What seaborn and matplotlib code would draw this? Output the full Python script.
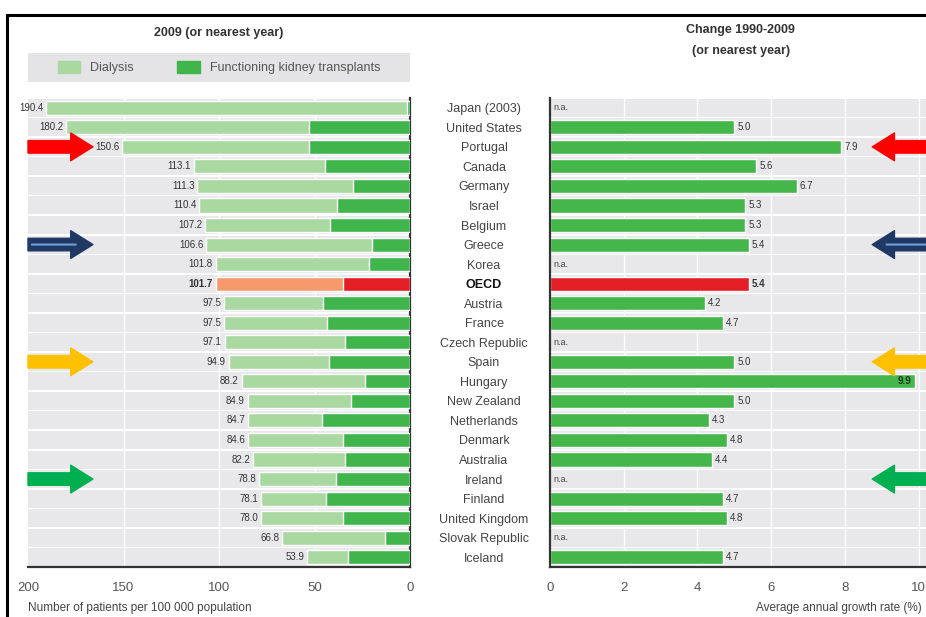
import numpy as np
import pandas as pd
import matplotlib
matplotlib.use("Agg")
import matplotlib.pyplot as plt
from matplotlib.patches import Rectangle, Patch
import seaborn as sns

# data
countries = ["Japan (2003)", "United States", "Portugal", "Canada", "Germany", "Israel",
             "Belgium", "Greece", "Korea", "OECD", "Austria", "France", "Czech Republic",
             "Spain", "Hungary", "New Zealand", "Netherlands", "Denmark", "Australia",
             "Ireland", "Finland", "United Kingdom", "Slovak Republic", "Iceland"]
total_patients = [190.4, 180.2, 150.6, 113.1, 111.3, 110.4, 107.2, 106.6, 101.8, 101.7,
                  97.5, 97.5, 97.1, 94.9, 88.2, 84.9, 84.7, 84.6, 82.2, 78.8, 78.1, 78.0,
                  66.8, 53.9]
transplants = [1.5, 53, 53, 44.5, 30, 38, 42, 20, 21.5, 35, 45.5, 43.5, 34, 42.5, 23.5,
               31, 46, 35, 34, 39, 44, 35, 13, 32.5]
growth = [np.nan, 5.0, 7.9, 5.6, 6.7, 5.3, 5.3, 5.4, np.nan, 5.4, 4.2, 4.7, np.nan, 5.0,
          9.9, 5.0, 4.3, 4.8, 4.4, np.nan, 4.7, 4.8, np.nan, 4.7]
highlight = {"Portugal": "#ff0000", "Greece": "#1f3864", "Spain": "#ffc000", "Ireland": "#00b050"}

df = pd.DataFrame({"country": countries, "total": total_patients,
                   "transplant": transplants, "growth": growth})

light_green, dark_green = "#a9d9a1", "#3fb54c"
oecd_light, oecd_dark = "#f69a6e", "#e31e24"
band = "#e8e8ea"

pal_light = {c: (oecd_light if c == "OECD" else light_green) for c in countries}
pal_dark = {c: (oecd_dark if c == "OECD" else dark_green) for c in countries}
pal_growth = {c: (oecd_dark if c == "OECD" else "#45b649") for c in countries}

sns.set_style("white")
plt.rcParams["font.family"] = ["Liberation Sans", "DejaVu Sans"]

fig = plt.figure(figsize=(9.26, 6.17), dpi=100)
ax1 = fig.add_axes([28 / 926, 1 - 567 / 617, 382 / 926, 469 / 617])
ax2 = fig.add_axes([550 / 926, 1 - 567 / 617, 376 / 926, 469 / 617])

n = len(countries)
for ax in (ax1, ax2):
    for i in range(n):
        ax.axhspan(i - 0.46, i + 0.46, color=band, lw=0, zorder=0)

# left panel: stacked bars
sns.barplot(data=df, x="total", y="country", hue="country", order=countries,
            hue_order=countries, palette=pal_light, legend=False, orient="h",
            width=0.72, saturation=1, ax=ax1, zorder=2)
sns.barplot(data=df, x="transplant", y="country", hue="country", order=countries,
            hue_order=countries, palette=pal_dark, legend=False, orient="h",
            width=0.72, saturation=1, ax=ax1, zorder=3)
ax1.set_xlim(200, 0)
ax1.set_ylim(n - 0.5, -0.5)
for x in (50, 100, 150):
    ax1.axvline(x, color="white", lw=1, zorder=1)
for i, v in enumerate(total_patients):
    ax1.text(v + 1.5, i, f"{v:.1f}", ha="right", va="center", fontsize=7,
             color="#333333", fontweight="bold" if countries[i] == "OECD" else "normal")

# right panel: growth rate
sns.barplot(data=df, x="growth", y="country", hue="country", order=countries,
            hue_order=countries, palette=pal_growth, legend=False, orient="h",
            width=0.72, saturation=1, ax=ax2, zorder=2)
ax2.set_xlim(0, 10.2)
ax2.set_ylim(n - 0.5, -0.5)
for x in (2, 4, 6, 8, 10):
    ax2.axvline(x, color="white", lw=1, zorder=1)
for i, v in enumerate(growth):
    bold = "bold" if countries[i] == "OECD" else "normal"
    if np.isnan(v):
        ax2.text(0.1, i, "n.a.", ha="left", va="center", fontsize=6.5, color="#444444")
    elif v > 9.5:
        ax2.text(v - 0.1, i, f"{v:.1f}", ha="right", va="center", fontsize=7,
                 color="#1a3a1a", fontweight="bold")
    else:
        ax2.text(v + 0.08, i, f"{v:.1f}", ha="left", va="center", fontsize=7,
                 color="#333333", fontweight=bold)

# axes styling
for ax in (ax1, ax2):
    for s in ax.spines.values():
        s.set_visible(False)
    ax.spines["bottom"].set_visible(True)
    ax.spines["bottom"].set_color("#333333")
    ax.spines["bottom"].set_linewidth(1.6)
    ax.set_xlabel("")
    ax.set_ylabel("")
    ax.tick_params(axis="x", direction="in", length=3, width=1.5, color="#333333",
                   labelsize=9.5, labelcolor="#555555", pad=11)
    ax.set_facecolor("white")

ax1.spines["right"].set_visible(True)
ax1.spines["right"].set_color("#333333")
ax1.spines["right"].set_linewidth(1.6)
ax1.set_xticks([200, 150, 100, 50, 0])
ax1.set_yticks([])

ax2.spines["left"].set_visible(True)
ax2.spines["left"].set_color("#333333")
ax2.spines["left"].set_linewidth(1.6)
ax2.set_xticks([0, 2, 4, 6, 8, 10])
ax2.set_yticks(range(n))
ax2.set_yticklabels(countries)
ax2.tick_params(axis="y", length=0, pad=47.5, labelsize=9, labelcolor="#444444")
for lab in ax2.get_yticklabels():
    lab.set_ha("center")
    if lab.get_text() == "OECD":
        lab.set_fontweight("bold")
        lab.set_color("#111111")

# titles, legend, axis captions
ax1.text(0.5, 1.139, "2009 (or nearest year)", transform=ax1.transAxes, ha="center",
         va="center", fontsize=9, fontweight="bold", color="#333333")
ax2.text(0.507, 1.145, "Change 1990-2009", transform=ax2.transAxes, ha="center",
         va="center", fontsize=9, fontweight="bold", color="#333333")
ax2.text(0.507, 1.100, "(or nearest year)", transform=ax2.transAxes, ha="center",
         va="center", fontsize=9, fontweight="bold", color="#333333")
ax1.add_patch(Rectangle((0, 1.034), 1.0, 0.062, transform=ax1.transAxes,
                        color="#e4e4e6", lw=0, clip_on=False))
handles = [Patch(color=light_green, label="Dialysis"),
           Patch(color=dark_green, label="Functioning kidney transplants")]
ax1.legend(handles=handles, loc="center", bbox_to_anchor=(0.5, 1.065), ncol=2,
           frameon=False, fontsize=9, labelcolor="#555555", handlelength=1.8,
           handleheight=1.1, columnspacing=3.5)
ax1.text(0, -0.088, "Number of patients per 100 000 population", transform=ax1.transAxes,
         ha="left", va="center", fontsize=8.5, color="#444444")
ax2.text(0.99, -0.088, "Average annual growth rate (%)", transform=ax2.transAxes,
         ha="right", va="center", fontsize=8.5, color="#444444")

# highlight arrows
arrow_style = "simple,head_width=1.0,head_length=0.8,tail_width=0.45"
for name, col in highlight.items():
    row = countries.index(name)
    ax1.annotate("", xy=(0.17, row), xycoords=("axes fraction", "data"),
                 xytext=(0.0, row), textcoords=("axes fraction", "data"),
                 arrowprops=dict(arrowstyle=arrow_style, fc=col, ec=col,
                                 mutation_scale=20, shrinkA=0, shrinkB=0))
    ax2.annotate("", xy=(0.857, row), xycoords=("axes fraction", "data"),
                 xytext=(1.03, row), textcoords=("axes fraction", "data"),
                 arrowprops=dict(arrowstyle=arrow_style, fc=col, ec=col,
                                 mutation_scale=20, shrinkA=0, shrinkB=0))
    if name == "Greece":
        ax1.annotate("", xy=(0.125, row), xycoords=("axes fraction", "data"),
                     xytext=(0.01, row), textcoords=("axes fraction", "data"),
                     arrowprops=dict(arrowstyle="-", color="#6fa0d8", lw=1.5,
                                     shrinkA=0, shrinkB=0))
        ax2.annotate("", xy=(0.895, row), xycoords=("axes fraction", "data"),
                     xytext=(1.03, row), textcoords=("axes fraction", "data"),
                     arrowprops=dict(arrowstyle="-", color="#6fa0d8", lw=1.5,
                                     shrinkA=0, shrinkB=0))

# frame around the whole picture (bottom and right edges fall outside, as in the reference)
fig.patches.append(Rectangle((7 / 926, -0.05), 1.05, 0.9757 + 0.05, transform=fig.transFigure,
                             fill=False, ec="black", lw=2.2))

fig.savefig("out.png", dpi=100)
